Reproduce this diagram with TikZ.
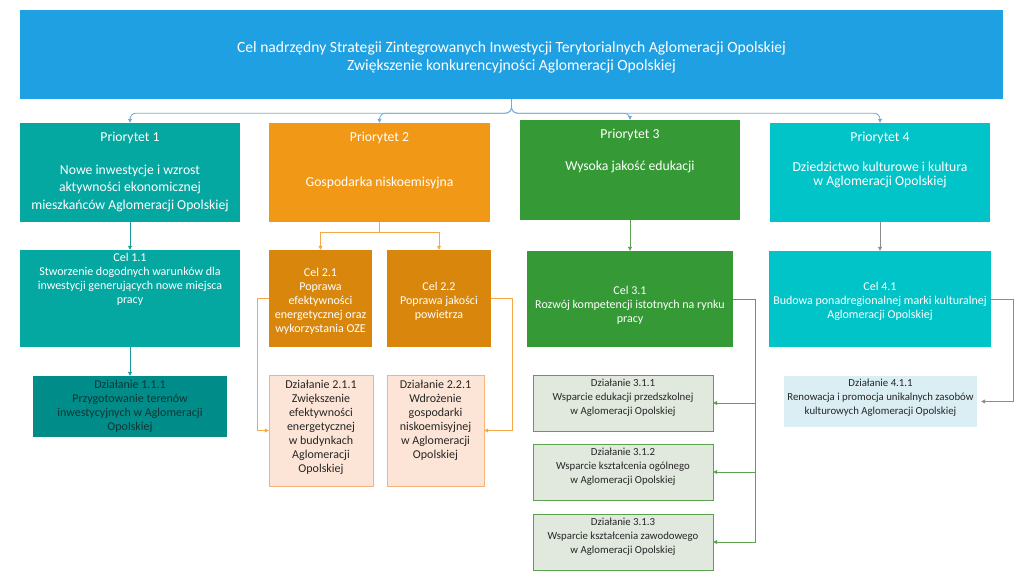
\documentclass[tikz,border=0pt]{standalone}
\usepackage{fontspec}
\setmainfont{Carlito}
\usetikzlibrary{arrows.meta}
\definecolor{topblue}{HTML}{1EA0E2}
\definecolor{topline}{HTML}{72ADD9}
\definecolor{teal1}{HTML}{05A7A1}
\definecolor{teal2}{HTML}{008D8A}
\definecolor{tealline}{HTML}{1B9C9A}
\definecolor{orange1}{HTML}{F19816}
\definecolor{orange2}{HTML}{D9870C}
\definecolor{orangeline}{HTML}{F3A947}
\definecolor{peach}{HTML}{FCE5D6}
\definecolor{peachline}{HTML}{F4B478}
\definecolor{green1}{HTML}{359935}
\definecolor{greenfill}{HTML}{E1E9DE}
\definecolor{greenline}{HTML}{5AA24E}
\definecolor{cyan1}{HTML}{00C4C8}
\definecolor{paleblue}{HTML}{DAEEF3}
\definecolor{grayline}{HTML}{8C8C8C}
\definecolor{darktext}{HTML}{262626}
\definecolor{tealtext}{HTML}{0F3534}
\newcommand{\celltext}[4]{\parbox[c][#2][t]{#1}{\vspace*{#3}\centering\strut#4}}
\tikzset{
  box/.style={rectangle, inner sep=0pt, text=white},
  headbox/.style={box, font=\fontsize{15.6}{18}\selectfont},
  priobox/.style={box, font=\fontsize{13.7}{17.5}\selectfont},
  goalbox/.style={box, font=\fontsize{12}{14}\selectfont},
  actbox/.style={box, font=\fontsize{12}{14}\selectfont, text=darktext},
  smallact/.style={box, font=\fontsize{10.8}{14}\selectfont, text=darktext},
  link/.style={-{Triangle[length=4pt,width=4pt]}, line width=0.8pt},
}
\begin{document}
\begin{tikzpicture}[x=1pt,y=-1pt]
  \useasboundingbox (0,0) rectangle (1023,580);
  \node[headbox, fill=topblue] (top) at (511.5,54.5)
    {\celltext{983pt}{89pt}{29.5pt}{Cel nadrzędny Strategii Zintegrowanych Inwestycji Terytorialnych Aglomeracji Opolskiej\\Zwiększenie konkurencyjności Aglomeracji Opolskiej}};

  \node[priobox, fill=teal1] (p1) at (130,172.5)
    {\celltext{220pt}{99pt}{6pt}{Priorytet 1\\[15.5pt]Nowe inwestycje i wzrost\\aktywności ekonomicznej\\mieszkańców Aglomeracji Opolskiej}};
  \node[priobox, fill=orange1] (p2) at (379.5,172.5)
    {\celltext{221pt}{99pt}{6pt}{Priorytet 2\\[27.5pt]Gospodarka niskoemisyjna}};
  \node[priobox, fill=green1] (p3) at (630,170)
    {\celltext{220pt}{100pt}{6pt}{Priorytet 3\\[14.5pt]Wysoka jakość edukacji}};
  \node[priobox, fill=cyan1] (p4) at (880,172.5)
    {\celltext{220pt}{99pt}{6pt}{Priorytet 4\\[12.5pt]Dziedzictwo kulturowe i kultura\\[-3pt]w Aglomeracji Opolskiej}};

  \node[goalbox, fill=teal1] (c11) at (130,298.5)
    {\celltext{220pt}{97pt}{1.3pt}{Cel 1.1\\Stworzenie dogodnych warunków dla\\inwestycji generujących nowe miejsca\\pracy}};
  \node[goalbox, fill=orange2] (c21) at (320.5,298.5)
    {\celltext{103pt}{97pt}{16.8pt}{Cel 2.1\\Poprawa\\efektywności\\energetycznej oraz\\wykorzystania OZE}};
  \node[goalbox, fill=orange2] (c22) at (439,298.5)
    {\celltext{104pt}{97pt}{30.8pt}{Cel 2.2\\Poprawa jakości\\powietrza}};
  \node[goalbox, fill=green1] (c31) at (630,299)
    {\celltext{206pt}{96pt}{33.8pt}{Cel 3.1\\Rozwój kompetencji istotnych na rynku\\pracy}};
  \node[goalbox, fill=cyan1] (c41) at (880,299)
    {\celltext{222pt}{96pt}{29.8pt}{Cel 4.1\\Budowa ponadregionalnej marki kulturalnej\\Aglomeracji Opolskiej}};

  \node[actbox, fill=teal2, text=tealtext] (d111) at (130,406.5)
    {\celltext{194pt}{61pt}{2.8pt}{Działanie 1.1.1\\Przygotowanie terenów\\inwestycyjnych w Aglomeracji\\Opolskiej}};
  \node[actbox, fill=peach, draw=peachline] (d211) at (321,430.5)
    {\celltext{104pt}{111pt}{3.8pt}{Działanie 2.1.1\\Zwiększenie\\efektywności\\energetycznej\\w budynkach\\Aglomeracji\\Opolskiej}};
  \node[actbox, fill=peach, draw=peachline] (d221) at (435.5,430.5)
    {\celltext{97pt}{111pt}{3.8pt}{Działanie 2.2.1\\Wdrożenie\\gospodarki\\niskoemisyjnej\\w Aglomeracji\\Opolskiej}};
  \node[smallact, fill=greenfill, draw=greenline] (d311) at (623,403)
    {\celltext{180pt}{56pt}{1.7pt}{Działanie 3.1.1\\Wsparcie edukacji przedszkolnej\\w Aglomeracji Opolskiej}};
  \node[smallact, fill=greenfill, draw=greenline] (d312) at (623,472)
    {\celltext{180pt}{56pt}{1.7pt}{Działanie 3.1.2\\Wsparcie kształcenia ogólnego\\w Aglomeracji Opolskiej}};
  \node[smallact, fill=greenfill, draw=greenline] (d313) at (623,542)
    {\celltext{180pt}{56pt}{1.7pt}{Działanie 3.1.3\\Wsparcie kształcenia zawodowego\\w Aglomeracji Opolskiej}};
  \node[smallact, fill=paleblue] (d411) at (880.5,401.5)
    {\celltext{193pt}{51pt}{0.7pt}{Działanie 4.1.1\\Renowacja i promocja unikalnych zasobów\\kulturowych Aglomeracji Opolskiej}};

  \begin{scope}[link, draw=topline, rounded corners=6pt]
    \draw (top.south) -- ++(0,14) -| (p1.north);
    \draw (top.south) -- ++(0,14) -| (p2.north);
    \draw (top.south) -- ++(0,14) -| (p3.north);
    \draw (top.south) -- ++(0,14) -| (p4.north);
  \end{scope}
  \begin{scope}[link, draw=tealline]
    \draw (p1.south) -- (c11.north);
    \draw (c11.south) -- (d111.north);
  \end{scope}
  \begin{scope}[link, draw=orangeline]
    \draw (p2.south) -- ++(0,10) -| (c21.north);
    \draw (p2.south) -- ++(0,10) -| (c22.north);
    \draw (c21.west) -- ++(-11,0) |- (d211.west);
    \draw (c22.east) -- ++(21,0) |- (d221.east);
  \end{scope}
  \begin{scope}[link, draw=greenline]
    \draw (p3.south) -- (c31.north);
    \draw (c31.east) -- ++(22,0) |- (d311.east);
    \draw (c31.east) -- ++(22,0) |- (d312.east);
    \draw (c31.east) -- ++(22,0) |- (d313.east);
  \end{scope}
  \begin{scope}[link, draw=grayline]
    \draw (p4.south) -- (c41.north);
    \draw[shorten >=4pt] (c41.east) -- ++(22,0) |- (d411.east);
  \end{scope}
\end{tikzpicture}
\end{document}
